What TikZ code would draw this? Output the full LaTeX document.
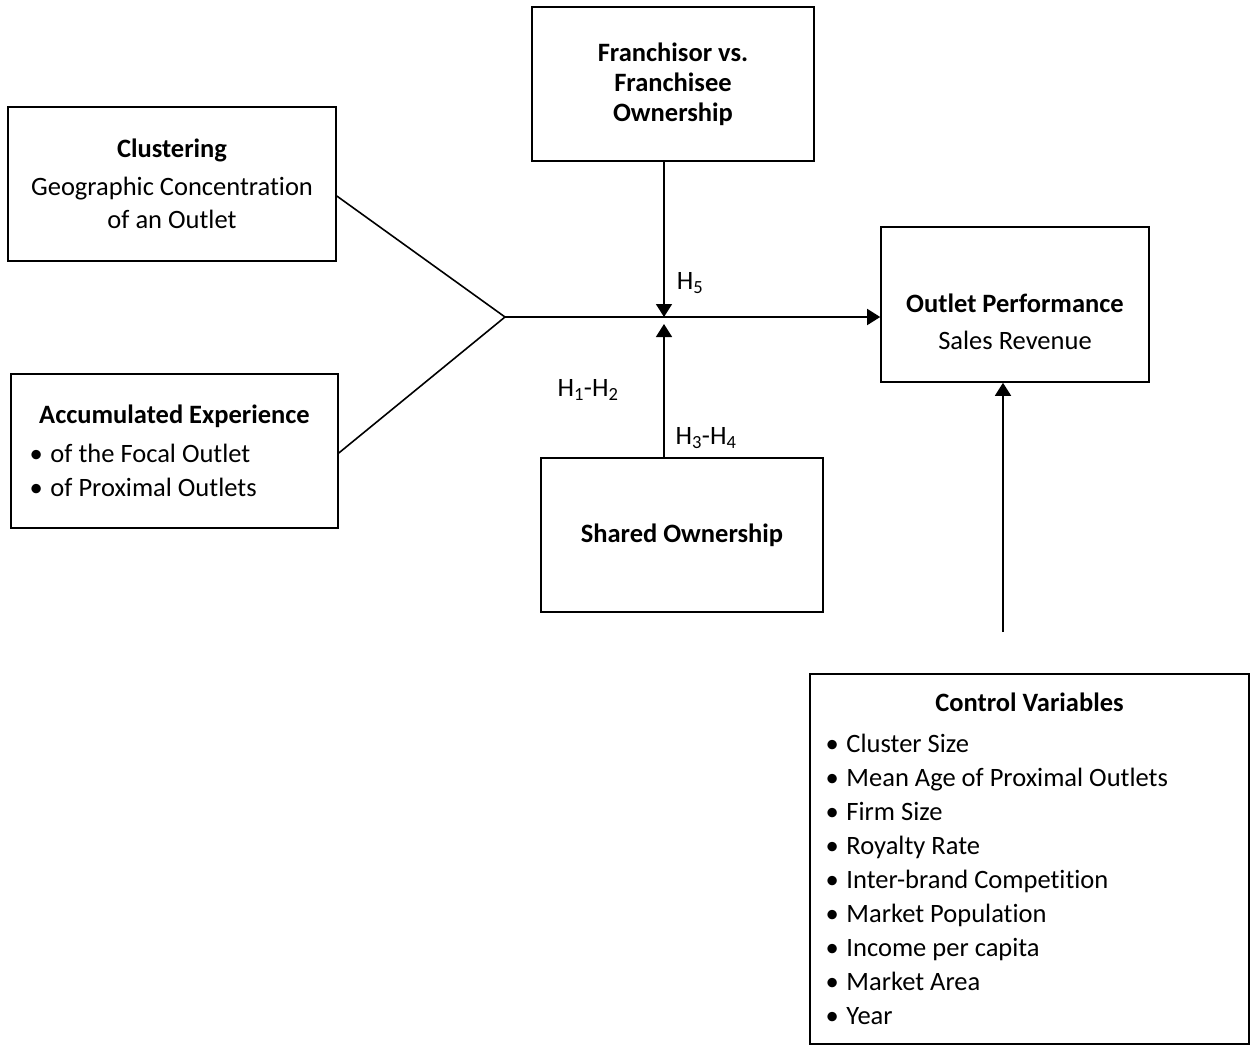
\documentclass[tikz,border=0pt]{standalone}
\usepackage{fontspec}
\setmainfont{Carlito}[Ligatures=NoCommon]
\usetikzlibrary{positioning,arrows.meta}
\setlength{\parindent}{0pt}
\newcommand{\bul}{\makebox[21pt][l]{•}}

\begin{document}
\begin{tikzpicture}[x=1pt, y=-1pt, font=\fontsize{26.5}{33}\selectfont,
    box/.style={draw, line width=1.6pt, inner sep=0pt, align=center},
    listbox/.style={box, align=left, font=\fontsize{26.5}{34}\selectfont},
    link/.style={line width=1.6pt},
    arr/.style={link, -{Triangle[length=13pt, width=16pt]}}]
    \useasboundingbox (0,0) rectangle (1254,1045);

    % left boxes
    \node(clust) [box, minimum width=328pt, minimum height=154pt] at (172,184)
        {\textbf{Clustering}\\[5pt] Geographic Concentration\\ of an Outlet};
    \node(accum) [listbox, minimum width=327pt, minimum height=154pt, text width=290pt] at (174.5,451)
        {\spaceskip=0pt\xspaceskip=0pt
         {\centering\textbf{Accumulated Experience}\par}\vspace{5pt}
         \bul of the Focal Outlet\\
         \bul of Proximal Outlets};

    % moderators
    \node(franch) [box, minimum width=282pt, minimum height=154pt,
        font=\fontsize{26.5}{30}\selectfont\bfseries] at (673,84)
        {Franchisor vs.\\ Franchisee\\ Ownership};
    \node(shared) [box, minimum width=282pt, minimum height=154pt] at (682,535)
        {\textbf{Shared Ownership}};

    % outcome
    \node(outlet) [box, minimum width=268pt, minimum height=155pt] at (1015,304.5) {};
    \node(outtxt) [align=center, inner sep=0pt] at ([yshift=-17pt]outlet.center)
        {\textbf{Outlet Performance}\\[4pt] Sales Revenue};

    % controls
    \node(ctrl) [listbox, minimum width=439pt, minimum height=370pt, text width=408pt] at (1029.5,859)
        {\spaceskip=0pt\xspaceskip=0pt
         {\centering\textbf{Control Variables}\par}\vspace{7pt}
         \bul Cluster Size\\
         \bul Mean Age of Proximal Outlets\\
         \bul Firm Size\\
         \bul Royalty Rate\\
         \bul Inter-brand Competition\\
         \bul Market Population\\
         \bul Income per capita\\
         \bul Market Area\\
         \bul Year};

    % hypothesis labels
    \node(h5)  at (690,283) {H\textsubscript{5}};
    \node(h12) at (588,390) {H\textsubscript{1}-H\textsubscript{2}};
    \node(h34) at (706,438) {H\textsubscript{3}-H\textsubscript{4}};

    %%%%% connectors %%%%%
    \coordinate(jn)  at (505,317);
    \coordinate(mod) at (664,317);
    \coordinate(ctrltop) at (1003,632);

    \draw[link] ([yshift=-12pt]clust.east) -- (jn);
    \draw[link] ([yshift=-2pt]accum.east) -- (jn);
    \draw[arr] (jn) -- (jn -| outlet.west);

    \draw[arr] (franch.south -| mod) -- (mod);
    \draw[arr] (shared.north -| mod) -- ([yshift=-7pt]mod);

    \draw[arr] (ctrltop) -- (ctrltop |- outlet.south);

\end{tikzpicture}
\end{document}
